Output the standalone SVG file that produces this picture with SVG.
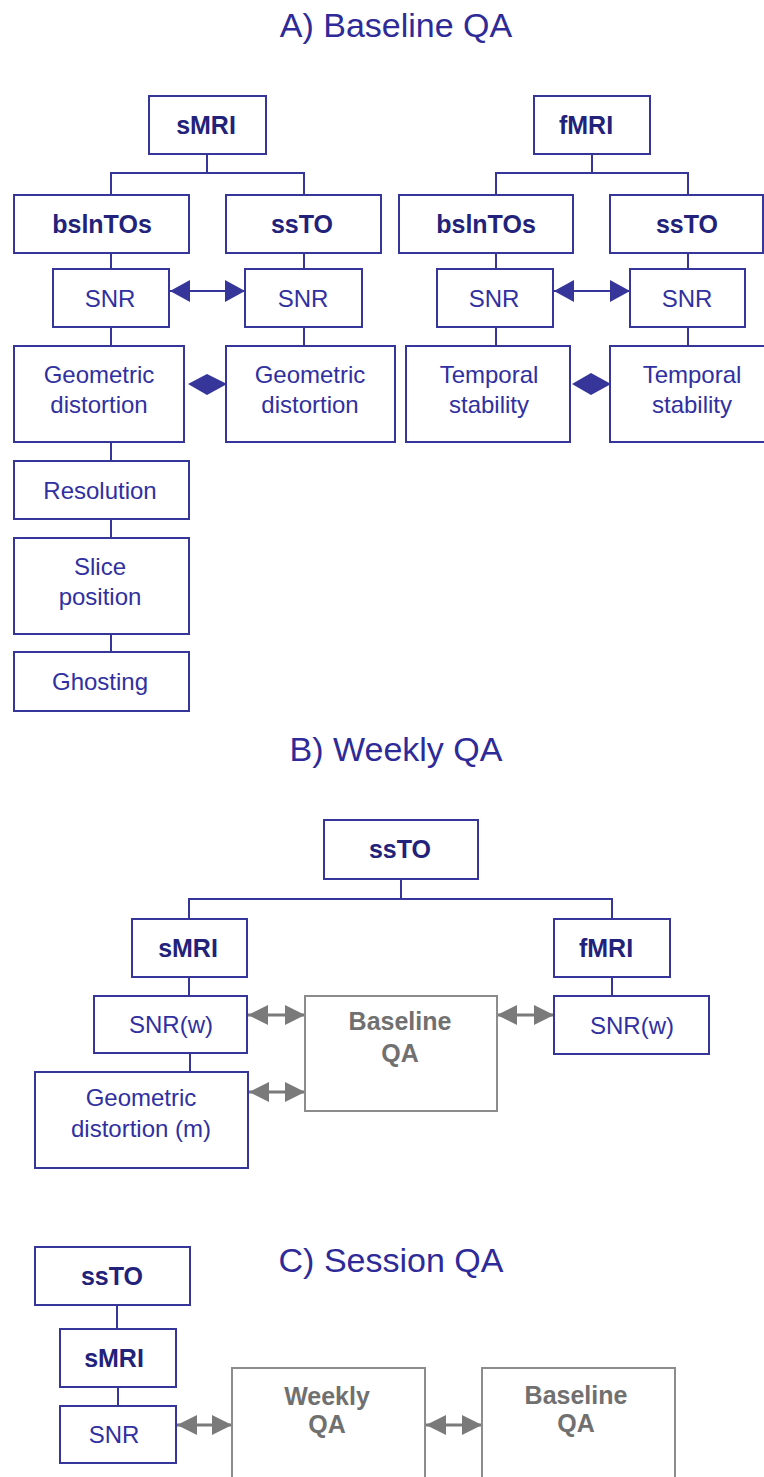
<svg xmlns="http://www.w3.org/2000/svg" width="764" height="1477" viewBox="0 0 764 1477">
<defs>
<style>
.b{fill:#fff;stroke:#35359a;stroke-width:2}
.g{fill:#fff;stroke:#8c8c8c;stroke-width:2}
.c{fill:none;stroke:#35359a;stroke-width:2}
.ca{fill:none;stroke:#35359a;stroke-width:2;marker-start:url(#ab);marker-end:url(#ab)}
.cg{fill:none;stroke:#7a7a7a;stroke-width:3;marker-start:url(#ag);marker-end:url(#ag)}
.d{fill:#35359a}
text{font-family:"Liberation Sans",Arial,sans-serif;text-anchor:middle}
.t{font-size:24px;fill:#3030a0}
.tb{font-size:25px;font-weight:bold;fill:#22227a}
.tg{font-size:25px;font-weight:bold;fill:#707070}
.h{font-size:34px;fill:#2e2a98}
</style>
<marker id="ab" markerUnits="userSpaceOnUse" markerWidth="20" markerHeight="22" refX="20" refY="11" orient="auto-start-reverse"><path d="M0,0 L20,11 L0,22 z" fill="#35359a"/></marker>
<marker id="ag" markerUnits="userSpaceOnUse" markerWidth="20" markerHeight="20" refX="20" refY="10" orient="auto-start-reverse"><path d="M0,0 L20,10 L0,20 z" fill="#7a7a7a"/></marker>
</defs>

<g id="titles">
<text class="h" x="396" y="37">A) Baseline QA</text>
<text class="h" x="396" y="761">B) Weekly QA</text>
<text class="h" x="391" y="1272">C) Session QA</text>
</g>

<g id="connectors">
<!-- A left tree -->
<path class="c" d="M207,154 V173 M111,195 V173 H304 V195"/>
<path class="c" d="M111,253 V269 M111,327 V346 M111,442 V461 M111,519 V538 M111,634 V652"/>
<path class="c" d="M304,253 V269 M304,327 V346"/>
<line class="ca" x1="170" y1="291" x2="245" y2="291"/>
<polygon class="d" points="188,384 207,374 227,384 207,395"/>
<!-- A right tree -->
<path class="c" d="M592,154 V173 M496,195 V173 H688 V195"/>
<path class="c" d="M496,253 V269 M496,327 V346"/>
<path class="c" d="M688,253 V269 M688,327 V346"/>
<line class="ca" x1="554" y1="291" x2="630" y2="291"/>
<polygon class="d" points="572,384 591,373 611,384 591,395"/>
<!-- B -->
<path class="c" d="M401,879 V899 M189,919 V899 H612 V919"/>
<path class="c" d="M189,977 V996 M190,1053 V1072 M612,977 V996"/>
<line class="cg" x1="248" y1="1015" x2="305" y2="1015"/>
<line class="cg" x1="497" y1="1015" x2="554" y2="1015"/>
<line class="cg" x1="249" y1="1092" x2="305" y2="1092"/>
<!-- C -->
<path class="c" d="M117,1305 V1329 M118,1387 V1406"/>
<line class="cg" x1="177" y1="1425" x2="232" y2="1425"/>
<line class="cg" x1="426" y1="1425" x2="482" y2="1425"/>
</g>

<g id="a-smri"><rect class="b" x="149" y="96" width="117" height="58"/><text class="tb" x="206" y="134">sMRI</text></g>
<g id="a-bslntos-l"><rect class="b" x="14" y="195" width="175" height="58"/><text class="tb" x="102" y="233">bslnTOs</text></g>
<g id="a-ssto-l"><rect class="b" x="226" y="195" width="155" height="58"/><text class="tb" x="302" y="233">ssTO</text></g>
<g id="a-snr-l1"><rect class="b" x="53" y="269" width="116" height="58"/><text class="t" x="110" y="307">SNR</text></g>
<g id="a-snr-l2"><rect class="b" x="245" y="269" width="117" height="58"/><text class="t" x="303" y="307">SNR</text></g>
<g id="a-geo-l1"><rect class="b" x="14" y="346" width="170" height="96"/><text class="t" x="99" y="383">Geometric</text><text class="t" x="99" y="413">distortion</text></g>
<g id="a-geo-l2"><rect class="b" x="226" y="346" width="169" height="96"/><text class="t" x="310" y="383">Geometric</text><text class="t" x="310" y="413">distortion</text></g>
<g id="a-resolution"><rect class="b" x="14" y="461" width="175" height="58"/><text class="t" x="100" y="499">Resolution</text></g>
<g id="a-slice"><rect class="b" x="14" y="538" width="175" height="96"/><text class="t" x="100" y="575">Slice</text><text class="t" x="100" y="605">position</text></g>
<g id="a-ghosting"><rect class="b" x="14" y="652" width="175" height="59"/><text class="t" x="100" y="690">Ghosting</text></g>

<g id="a-fmri"><rect class="b" x="534" y="96" width="116" height="58"/><text class="tb" x="586" y="134">fMRI</text></g>
<g id="a-bslntos-r"><rect class="b" x="399" y="195" width="174" height="58"/><text class="tb" x="486" y="233">bslnTOs</text></g>
<g id="a-ssto-r"><rect class="b" x="610" y="195" width="153" height="58"/><text class="tb" x="687" y="233">ssTO</text></g>
<g id="a-snr-r1"><rect class="b" x="437" y="269" width="116" height="58"/><text class="t" x="494" y="307">SNR</text></g>
<g id="a-snr-r2"><rect class="b" x="630" y="269" width="115" height="58"/><text class="t" x="687" y="307">SNR</text></g>
<g id="a-temp-r1"><rect class="b" x="406" y="346" width="164" height="96"/><text class="t" x="489" y="383">Temporal</text><text class="t" x="489" y="413">stability</text></g>
<g id="a-temp-r2"><rect class="b" x="610" y="346" width="164" height="96"/><text class="t" x="692" y="383">Temporal</text><text class="t" x="692" y="413">stability</text></g>

<g id="b-ssto"><rect class="b" x="324" y="820" width="154" height="59"/><text class="tb" x="400" y="858">ssTO</text></g>
<g id="b-smri"><rect class="b" x="132" y="919" width="115" height="58"/><text class="tb" x="188" y="957">sMRI</text></g>
<g id="b-fmri"><rect class="b" x="554" y="919" width="116" height="58"/><text class="tb" x="606" y="957">fMRI</text></g>
<g id="b-snrw-l"><rect class="b" x="94" y="996" width="153" height="57"/><text class="t" x="171" y="1033">SNR(w)</text></g>
<g id="b-snrw-r"><rect class="b" x="554" y="996" width="155" height="58"/><text class="t" x="632" y="1034">SNR(w)</text></g>
<g id="b-geo"><rect class="b" x="35" y="1072" width="213" height="96"/><text class="t" x="141" y="1106">Geometric</text><text class="t" x="141" y="1137">distortion (m)</text></g>
<g id="b-baseline"><rect class="g" x="305" y="996" width="192" height="115"/><text class="tg" x="400" y="1030">Baseline</text><text class="tg" x="400" y="1062">QA</text></g>

<g id="c-ssto"><rect class="b" x="35" y="1247" width="155" height="58"/><text class="tb" x="112" y="1285">ssTO</text></g>
<g id="c-smri"><rect class="b" x="60" y="1329" width="116" height="58"/><text class="tb" x="114" y="1367">sMRI</text></g>
<g id="c-snr"><rect class="b" x="60" y="1406" width="116" height="57"/><text class="t" x="114" y="1443">SNR</text></g>
<g id="c-weekly"><rect class="g" x="232" y="1368" width="193" height="130"/><text class="tg" x="327" y="1405">Weekly</text><text class="tg" x="327" y="1433">QA</text></g>
<g id="c-baseline"><rect class="g" x="482" y="1368" width="193" height="130"/><text class="tg" x="576" y="1404">Baseline</text><text class="tg" x="576" y="1432">QA</text></g>
</svg>
